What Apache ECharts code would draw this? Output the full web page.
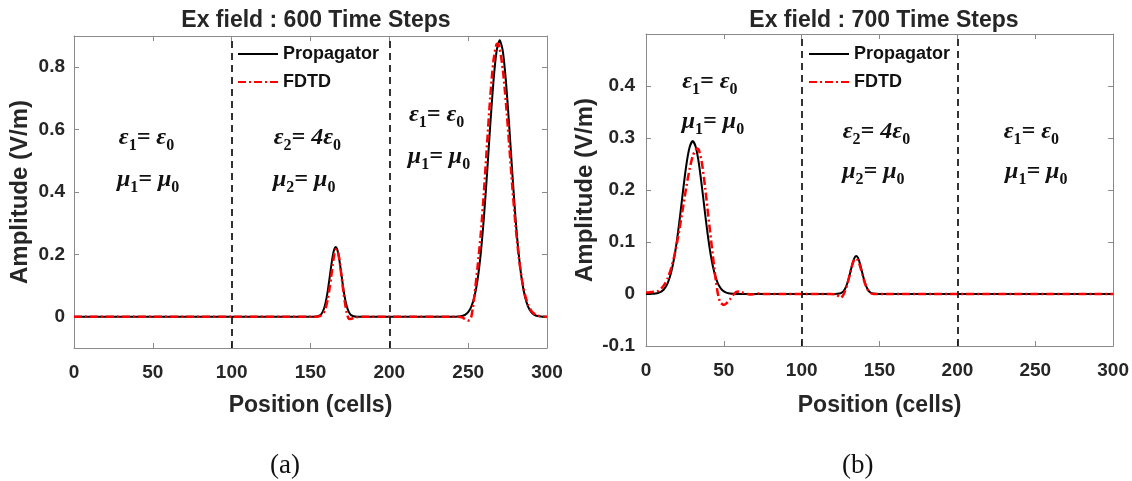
<!DOCTYPE html>
<html>
<head>
<meta charset="utf-8">
<script src="https://cdn.jsdelivr.net/npm/echarts@6/dist/echarts.min.js"></script>
<style>html,body{margin:0;padding:0;background:#fff;}#c{width:1132px;height:481px;}</style>
</head>
<body>
<div id="c"></div>
<script>
// ---------- data ----------
const xTicks = [0, 50, 100, 150, 200, 250, 300];
const leftYTicks = [0, 0.2, 0.4, 0.6, 0.8];
const rightYTicks = [-0.1, 0, 0.1, 0.2, 0.3, 0.4];
const boundaries = [100, 200];
const seriesNames = ['Propagator', 'FDTD'];
const titles = ['Ex field : 600 Time Steps', 'Ex field : 700 Time Steps'];
const panelLabels = ['(a)', '(b)'];

const leftPropagator = [[0,0],[100,0],[150,0],[152,0.0001],[154,0.0009],[156,0.0047],[157,0.0098],[158,0.019],[159,0.034],[160,0.056],[161,0.085],[162,0.121],[163,0.158],[164,0.192],[165,0.2155],[166,0.224],[167,0.2155],[168,0.192],[169,0.158],[170,0.121],[171,0.085],[172,0.056],[173,0.034],[174,0.019],[175,0.0098],[176,0.0047],[178,0.0009],[180,0.0001],[182,0],[200,0],[240,0],[242,0.0003],[244,0.0009],[246,0.0025],[248,0.0064],[250,0.015],[252,0.0325],[254,0.065],[256,0.120],[258,0.204],[260,0.319],[262,0.461],[264,0.614],[266,0.752],[268,0.851],[270,0.886],[272,0.851],[274,0.752],[276,0.614],[278,0.461],[280,0.319],[282,0.204],[284,0.120],[286,0.065],[288,0.0325],[290,0.015],[292,0.0064],[294,0.0025],[296,0.0009],[298,0.0003],[300,0]];

const leftFDTD = [[0,0],[100,0],[150,0],[155,0.001],[157,0.005],[158,0.010],[159,0.019],[160,0.035],[161,0.058],[162,0.088],[163,0.124],[164,0.163],[165,0.197],[166,0.216],[167,0.214],[168,0.193],[169,0.158],[170,0.116],[171,0.075],[172,0.040],[173,0.012],[174,-0.004],[175,-0.007],[176,-0.006],[178,-0.003],[180,-0.001],[183,0],[200,0],[244,0],[246,-0.002],[248,-0.007],[250,-0.012],[251,-0.010],[252,0.0],[253,0.03],[254,0.07],[256,0.162],[258,0.266],[260,0.401],[262,0.555],[264,0.704],[266,0.819],[268,0.874],[269,0.875],[270,0.860],[272,0.792],[274,0.683],[276,0.552],[278,0.417],[280,0.295],[282,0.196],[284,0.122],[286,0.071],[288,0.0385],[290,0.0196],[292,0.0094],[294,0.0042],[296,0.002],[298,0.001],[300,0.0005]];

const rightPropagator = [[0,0],[2,0.0001],[4,0.0003],[6,0.0008],[8,0.0021],[10,0.005],[12,0.0108],[14,0.0216],[16,0.0397],[18,0.0677],[20,0.106],[22,0.153],[24,0.204],[26,0.250],[28,0.282],[30,0.294],[32,0.282],[34,0.250],[36,0.204],[38,0.153],[40,0.106],[42,0.0677],[44,0.0397],[46,0.0216],[48,0.0108],[50,0.005],[52,0.0021],[54,0.0008],[56,0.0003],[58,0.0001],[60,0],[121,0],[123,0.0003],[125,0.0015],[126,0.0032],[127,0.0062],[128,0.011],[129,0.0182],[130,0.0278],[131,0.0394],[132,0.0516],[133,0.0626],[134,0.0702],[135,0.073],[136,0.0702],[137,0.0626],[138,0.0516],[139,0.0394],[140,0.0278],[141,0.0182],[142,0.011],[143,0.0062],[144,0.0032],[145,0.0015],[147,0.0003],[149,0],[300,0]];

const rightFDTD = [[0,0.003],[2,0.003],[4,0.004],[6,0.005],[8,0.0062],[10,0.0111],[12,0.019],[14,0.031],[16,0.048],[18,0.071],[20,0.100],[22,0.134],[24,0.171],[26,0.208],[28,0.240],[30,0.265],[32,0.278],[33,0.280],[34,0.2765],[36,0.250],[38,0.204],[40,0.150],[41,0.124],[42,0.098],[43,0.072],[44,0.046],[45,0.022],[46,0.003],[47,-0.010],[48,-0.017],[50,-0.021],[52,-0.017],[54,-0.010],[56,-0.002],[58,0.004],[60,0.005],[62,0.003],[65,0],[68,-0.001],[72,0.001],[76,0],[118,0],[122,-0.001],[124,-0.005],[125,-0.007],[126,-0.005],[127,0],[128,0.007],[129,0.016],[130,0.027],[131,0.039],[132,0.051],[133,0.061],[134,0.067],[135,0.068],[136,0.065],[137,0.058],[138,0.048],[139,0.037],[140,0.026],[141,0.017],[142,0.010],[143,0.005],[144,0.002],[146,0],[300,0]];

// region annotations: [x, y, text]
const leftNotes = [[46,0.575,'e1'],[47,0.44,'m1'],[148,0.575,'e2'],[146,0.44,'m2'],[230,0.646,'e1'],[231.5,0.512,'m1']];
const rightNotes = [[41,0.408,'e1'],[43,0.331,'m1'],[148,0.312,'e2'],[146,0.235,'m2'],[247.5,0.312,'e1'],[250.6,0.235,'m1']];
const noteTexts = {
  e1: '{t|ε}{s|1}{t|= ε}{s|0}',
  e2: '{t|ε}{s|2}{t|= 4ε}{s|0}',
  m1: '{t|μ}{s|1}{t|= μ}{s|0}',
  m2: '{t|μ}{s|2}{t|= μ}{s|0}'
};

// ---------- styling ----------
const SANS = '"Liberation Sans", Arial, sans-serif';
const SERIF = '"Liberation Serif", "Times New Roman", serif';
const axisGray = '#8a8a8a';
const txt = '#262626';
const redDash = [8, 3, 2, 3];

const grids = [
  {left: 74, top: 36, width: 473, height: 312},
  {left: 646, top: 34, width: 468, height: 312}
];
const yRanges = [[-0.1, 0.9], [-0.1, 0.5]];
const yTickSets = [leftYTicks, rightYTicks];

function fmt(v) { return String(Math.round(v * 10) / 10); }

const xAxis = [], yAxis = [];
[0, 1].forEach(g => {
  xAxis.push({
    gridIndex: g, type: 'value', min: 0, max: 300, position: 'bottom',
    axisLine: {show: true, onZero: false, lineStyle: {color: axisGray, width: 1}},
    axisTick: {show: true, inside: true, length: 5, customValues: xTicks, lineStyle: {color: axisGray}},
    axisLabel: {customValues: xTicks, margin: 15, fontSize: 19, fontWeight: 'bold', color: txt, fontFamily: SANS},
    splitLine: {show: false},
    name: 'Position (cells)', nameLocation: 'middle', nameGap: g === 0 ? 46 : 48,
    nameTextStyle: {fontSize: 23, fontWeight: 'bold', color: txt, fontFamily: SANS}
  });
  xAxis.push({
    gridIndex: g, type: 'value', min: 0, max: 300, position: 'top',
    axisLine: {show: true, onZero: false, lineStyle: {color: axisGray, width: 1}},
    axisTick: {show: true, inside: true, length: 5, customValues: xTicks, lineStyle: {color: axisGray}},
    axisLabel: {show: false}, splitLine: {show: false}
  });
  yAxis.push({
    gridIndex: g, type: 'value', min: yRanges[g][0], max: yRanges[g][1], position: 'left',
    axisLine: {show: true, onZero: false, lineStyle: {color: axisGray, width: 1}},
    axisTick: {show: true, inside: true, length: 5, customValues: yTickSets[g], lineStyle: {color: axisGray}},
    axisLabel: {customValues: yTickSets[g], formatter: fmt, margin: g === 0 ? 9 : 11, fontSize: 19, fontWeight: 'bold', color: txt, fontFamily: SANS},
    splitLine: {show: false},
    name: 'Amplitude (V/m)', nameLocation: 'middle', nameGap: g === 0 ? 42 : 49, nameRotate: 90,
    nameTextStyle: {fontSize: 24, fontWeight: 'bold', color: txt, fontFamily: SANS}
  });
  yAxis.push({
    gridIndex: g, type: 'value', min: yRanges[g][0], max: yRanges[g][1], position: 'right',
    axisLine: {show: true, onZero: false, lineStyle: {color: axisGray, width: 1}},
    axisTick: {show: true, inside: true, length: 5, customValues: yTickSets[g], lineStyle: {color: axisGray}},
    axisLabel: {show: false}, splitLine: {show: false}
  });
});

const richStyles = {
  t: {fontSize: 24, lineHeight: 32, fontWeight: 'bold', fontStyle: 'italic', fontFamily: SERIF, color: '#111'},
  s: {fontSize: 16, lineHeight: 16, verticalAlign: 'bottom', fontWeight: 'bold', fontFamily: SERIF, color: '#111'}
};

function noteSeries(notes, g) {
  return {
    type: 'scatter', xAxisIndex: g * 2, yAxisIndex: g * 2, silent: true,
    symbol: 'circle', symbolSize: 1, itemStyle: {color: 'rgba(0,0,0,0)'},
    data: notes.map(n => ({value: [n[0], n[1]], key: n[2]})),
    label: {
      show: true, position: 'inside', opacity: 1,
      formatter: p => noteTexts[p.data.key],
      rich: richStyles
    },
    z: 5
  };
}

function curveSeries(name, data, g, isRed) {
  const s = {
    name: name, type: 'line', xAxisIndex: g * 2, yAxisIndex: g * 2,
    data: data, symbol: 'none', showSymbol: false, smooth: 0.25, animation: false,
    lineStyle: isRed ? {color: '#ff0000', width: 2.5, type: redDash} : {color: '#000000', width: 2},
    itemStyle: {color: isRed ? '#ff0000' : '#000000'},
    z: isRed ? 4 : 3
  };
  if (!isRed) {
    s.markLine = {
      silent: true, symbol: 'none', animation: false,
      label: {show: false},
      lineStyle: {color: '#000', type: [7, 5], width: 1.6},
      data: boundaries.map(v => ({xAxis: v}))
    };
  }
  return s;
}

const legendBase = {
  data: seriesNames, orient: 'vertical', itemWidth: 40, itemHeight: 14, itemGap: 10,
  selectedMode: false, padding: 0,
  itemStyle: {opacity: 0, borderWidth: 0},
  textStyle: {fontSize: 18, fontWeight: 'bold', color: '#111', fontFamily: SANS}
};

const option = {
  animation: false,
  backgroundColor: '#ffffff',
  title: [
    {text: titles[0], left: 311, top: 4, textAlign: 'center', textStyle: {fontSize: 23, fontWeight: 'bold', color: txt, fontFamily: SANS}},
    {text: titles[1], left: 879, top: 4, textAlign: 'center', textStyle: {fontSize: 23, fontWeight: 'bold', color: txt, fontFamily: SANS}}
  ],
  legend: [
    Object.assign({}, legendBase, {left: 237, top: 45}),
    Object.assign({}, legendBase, {left: 808, top: 45})
  ],
  grid: grids,
  xAxis: xAxis,
  yAxis: yAxis,
  series: [
    curveSeries(seriesNames[0], leftPropagator, 0, false),
    curveSeries(seriesNames[1], leftFDTD, 0, true),
    curveSeries(seriesNames[0], rightPropagator, 1, false),
    curveSeries(seriesNames[1], rightFDTD, 1, true),
    noteSeries(leftNotes, 0),
    noteSeries(rightNotes, 1)
  ],
  graphic: [
    {type: 'text', left: 270, top: 452, style: {text: panelLabels[0], font: '27px ' + SERIF, fill: '#111'}},
    {type: 'text', left: 842, top: 452, style: {text: panelLabels[1], font: '27px ' + SERIF, fill: '#111'}}
  ]
};

const chart = echarts.init(document.getElementById('c'), null, {renderer: 'canvas'});
chart.setOption(option);
</script>
</body>
</html>
